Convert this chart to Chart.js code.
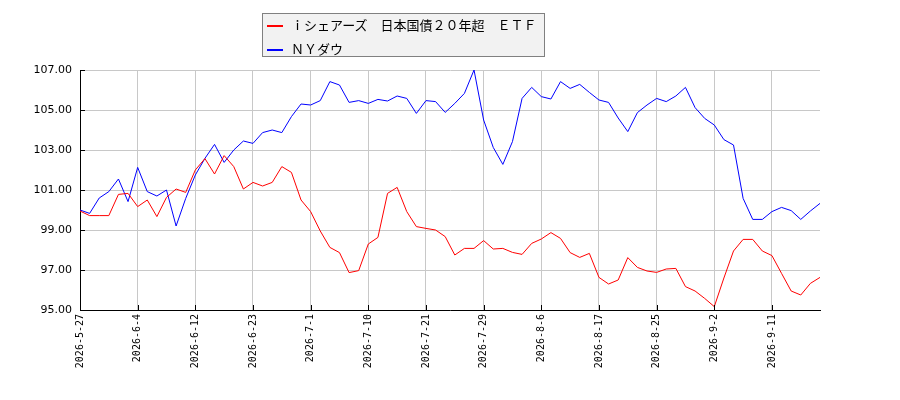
<!DOCTYPE html>
<html>
<head>
<meta charset="utf-8">
<script src="https://cdn.jsdelivr.net/npm/chart.js@4.4.1/dist/chart.umd.min.js"></script>
<style>
    body { margin: 0; background: #fff; }
    #wrap { position: relative; width: 900px; height: 400px; }
    #legend {
        position: absolute; left: 262px; top: 13px; width: 281px; height: 42px;
        background: #f2f2f2; border: 1px solid #808080;
        font-family: "Noto Sans CJK JP", sans-serif; font-size: 13px; color: #000;
    }
    .item { position: absolute; left: 4px; height: 20px; line-height: 20px; white-space: nowrap; }
    .swatch { display: inline-block; width: 16px; height: 2px; vertical-align: middle; margin-right: 8px; }
</style>
</head>
<body>
<div id="wrap">
    <canvas id="chart" width="900" height="400"></canvas>
    <div id="legend"></div>
</div>
<script>
const dates = [
    "2026-5-27", "2026-5-28", "2026-5-29", "2026-6-1", "2026-6-2", "2026-6-3", "2026-6-4",
    "2026-6-5", "2026-6-8", "2026-6-9", "2026-6-10", "2026-6-11", "2026-6-12",
    "2026-6-15", "2026-6-16", "2026-6-17", "2026-6-18", "2026-6-22", "2026-6-23",
    "2026-6-24", "2026-6-25", "2026-6-26", "2026-6-29", "2026-6-30", "2026-7-1",
    "2026-7-2", "2026-7-6", "2026-7-7", "2026-7-8", "2026-7-9", "2026-7-10",
    "2026-7-13", "2026-7-14", "2026-7-15", "2026-7-16", "2026-7-17", "2026-7-21",
    "2026-7-22", "2026-7-23", "2026-7-24", "2026-7-27", "2026-7-28", "2026-7-29",
    "2026-7-30", "2026-7-31", "2026-8-3", "2026-8-4", "2026-8-5", "2026-8-6",
    "2026-8-7", "2026-8-10", "2026-8-11", "2026-8-12", "2026-8-13", "2026-8-17",
    "2026-8-18", "2026-8-19", "2026-8-20", "2026-8-21", "2026-8-24", "2026-8-25",
    "2026-8-26", "2026-8-27", "2026-8-28", "2026-8-31", "2026-9-1", "2026-9-2",
    "2026-9-3", "2026-9-4", "2026-9-8", "2026-9-9", "2026-9-10", "2026-9-11",
    "2026-9-14", "2026-9-15", "2026-9-16", "2026-9-17", "2026-9-18"
];
// iシェアーズ 日本国債20年超 ETF (indexed)
const etfValues = [
    99.95, 99.72, 99.72, 99.72, 100.78, 100.83, 100.17,
    100.50, 99.67, 100.63, 101.05, 100.88, 102.00,
    102.57, 101.80, 102.72, 102.17, 101.05, 101.38,
    101.20, 101.38, 102.17, 101.88, 100.50, 99.92,
    98.95, 98.13, 97.87, 96.87, 96.97, 98.30,
    98.63, 100.83, 101.13, 99.92, 99.17, 99.08,
    99.00, 98.67, 97.75, 98.08, 98.08, 98.47,
    98.05, 98.08, 97.88, 97.78, 98.33, 98.55,
    98.87, 98.58, 97.87, 97.63, 97.83, 96.63,
    96.30, 96.50, 97.62, 97.13, 96.95, 96.88,
    97.05, 97.08, 96.17, 95.95, 95.58, 95.17,
    96.60, 97.95, 98.53, 98.53, 97.95, 97.72,
    96.83, 95.95, 95.75, 96.33, 96.63
];
// NYダウ (indexed)
const dowValues = [
    100.00, 99.83, 100.60, 100.92, 101.55, 100.42, 102.13,
    100.92, 100.70, 101.00, 99.20, 100.58, 101.75,
    102.58, 103.28, 102.38, 103.00, 103.45, 103.33,
    103.87, 104.00, 103.87, 104.67, 105.30, 105.25,
    105.47, 106.42, 106.25, 105.38, 105.47, 105.33,
    105.53, 105.45, 105.70, 105.58, 104.83, 105.47,
    105.42, 104.88, 105.33, 105.83, 107.00, 104.50,
    103.13, 102.28, 103.42, 105.58, 106.13, 105.67,
    105.55, 106.42, 106.08, 106.28, 105.88, 105.50,
    105.38, 104.60, 103.92, 104.87, 105.25, 105.58,
    105.42, 105.70, 106.13, 105.12, 104.58, 104.25,
    103.52, 103.25, 100.58, 99.53, 99.53, 99.92,
    100.13, 99.97, 99.53, 99.95, 100.33
];
const seriesNames = ["ｉシェアーズ　日本国債２０年超　ＥＴＦ", "ＮＹダウ"];
const seriesColors = ["#ff0000", "#0000ff"];
const yTicks = [95, 97, 99, 101, 103, 105, 107];
const LABEL_EVERY = 6;

// Legend box (plain text, built from the series arrays)
const legendBox = document.getElementById("legend");
seriesNames.forEach((name, i) => {
    const row = document.createElement("div");
    row.className = "item";
    row.style.top = (i * 24 + 1) + "px";
    row.innerHTML = '<span class="swatch" style="background:' + seriesColors[i] + '"></span>';
    row.appendChild(document.createTextNode(name));
    legendBox.appendChild(row);
});

// Small black tick marks pointing into the plot area
const innerTicks = {
    id: "innerTicks",
    afterDatasetsDraw(chart) {
        const { ctx, chartArea, scales } = chart;
        ctx.save();
        ctx.strokeStyle = "#000";
        ctx.lineWidth = 1;
        ctx.beginPath();
        scales.y.ticks.forEach((t, i) => {
            const py = Math.round(scales.y.getPixelForTick(i)) + 0.5;
            ctx.moveTo(chartArea.left, py);
            ctx.lineTo(chartArea.left + 5, py);
        });
        scales.x.ticks.forEach((t, i) => {
            if (i % LABEL_EVERY !== 0) return;
            const px = Math.round(scales.x.getPixelForTick(i)) + 0.5;
            ctx.moveTo(px, chartArea.bottom);
            ctx.lineTo(px, chartArea.bottom - 5);
        });
        ctx.stroke();
        ctx.restore();
    }
};

new Chart(document.getElementById("chart"), {
    type: "line",
    data: {
        labels: dates,
        datasets: [
            {
                label: seriesNames[0],
                data: etfValues,
                borderColor: seriesColors[0],
                borderWidth: 1,
                pointRadius: 0,
                tension: 0
            },
            {
                label: seriesNames[1],
                data: dowValues,
                borderColor: seriesColors[1],
                borderWidth: 1,
                pointRadius: 0,
                tension: 0
            }
        ]
    },
    options: {
        responsive: false,
        animation: false,
        layout: { padding: { top: 70, right: 80, left: 0, bottom: 0 } },
        plugins: {
            legend: { display: false },
            tooltip: { enabled: false }
        },
        scales: {
            x: {
                afterFit: (s) => { s.height = 90; },
                grid: {
                    color: (c) => (c.index % LABEL_EVERY === 0 ? "#c8c8c8" : "rgba(0,0,0,0)"),
                    drawTicks: false
                },
                border: { color: "#000", width: 1 },
                ticks: {
                    autoSkip: false,
                    maxRotation: 90,
                    minRotation: 90,
                    padding: 4,
                    color: "#000",
                    font: { family: "DejaVu Sans Mono", size: 10 },
                    callback: (v, i) => (i % LABEL_EVERY === 0 ? dates[i] : "")
                }
            },
            y: {
                min: yTicks[0],
                max: yTicks[yTicks.length - 1],
                afterFit: (s) => { s.width = 80; },
                afterBuildTicks: (s) => { s.ticks = yTicks.map(v => ({ value: v })); },
                grid: { color: "#c8c8c8", drawTicks: false },
                border: { color: "#000", width: 1 },
                ticks: {
                    padding: 8,
                    color: "#000",
                    font: { family: "DejaVu Sans", size: 11 },
                    callback: (v) => Number(v).toFixed(2)
                }
            }
        }
    },
    plugins: [innerTicks]
});
</script>
</body>
</html>
